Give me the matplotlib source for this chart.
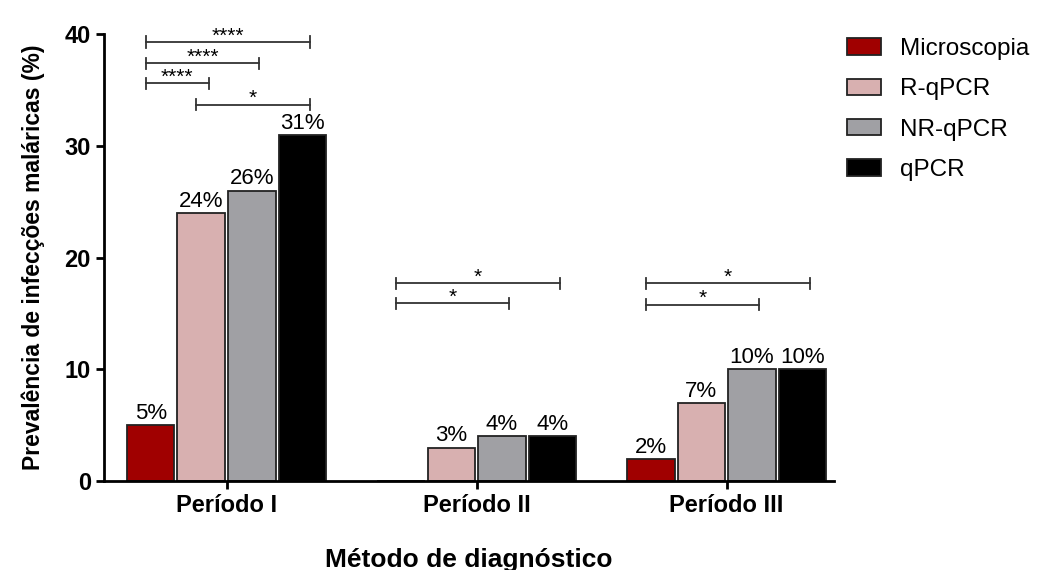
import numpy as np
import matplotlib
matplotlib.use('Agg')
import matplotlib.pyplot as plt

plt.rcParams['font.family'] = ['Liberation Sans', 'DejaVu Sans']

periods = ['Período I', 'Período II', 'Período III']
methods = ['Microscopia', 'R-qPCR', 'NR-qPCR', 'qPCR']
colors = ['#a00000', '#d8b0b0', '#a0a0a4', '#000000']

microscopia = [5, 0, 2]
r_qpcr = [24, 3, 7]
nr_qpcr = [26, 4, 10]
qpcr = [31, 4, 10]
values = [microscopia, r_qpcr, nr_qpcr, qpcr]

# significance brackets: (period, from method, to method, height, label)
brackets = [
    (0, 0, 3, 39.3, '****'),
    (0, 0, 2, 37.4, '****'),
    (0, 0, 1, 35.6, '****'),
    (0, 1, 3, 33.7, '*'),
    (1, 0, 3, 17.7, '*'),
    (1, 0, 2, 15.9, '*'),
    (2, 0, 3, 17.7, '*'),
    (2, 0, 2, 15.8, '*'),
]

fig = plt.figure(figsize=(10.43, 5.70), dpi=100)
ax = fig.add_axes([0.0997, 0.156, 0.70, 0.784])

x = np.arange(len(periods))
pitch = 0.202
width = 0.19

for i, m in enumerate(methods):
    pos = x + (i - 1.5) * pitch
    vals = values[i]
    ax.bar(pos, vals, width, color=colors[i], edgecolor='#222222',
           linewidth=1.3, label=m)
    for p, v in zip(pos, vals):
        if v > 0:
            ax.text(p, v + 0.1, '%d%%' % v, ha='center', va='bottom', fontsize=16)

for g, a, b, h, lab in brackets:
    x0 = g + (a - 1.5) * pitch - 0.02
    x1 = g + (b - 1.5) * pitch + 0.03
    ax.plot([x0, x1], [h, h], color='#333333', lw=1.3, clip_on=False)
    for xx in (x0, x1):
        ax.plot([xx, xx], [h - 0.5, h + 0.5], color='#333333', lw=1.3, clip_on=False)
    ax.text((x0 + x1) / 2, h - 0.3, lab, ha='center', va='bottom', fontsize=15)

ax.set_xlim(-0.49, 2.43)
ax.set_ylim(0, 40)
ax.set_yticks([0, 10, 20, 30, 40])
ax.set_xticks(x)
ax.set_xticklabels(periods, fontsize=17, fontweight='bold')
for t in ax.get_yticklabels():
    t.set_fontsize(17)
    t.set_fontweight('bold')

for s in ['top', 'right']:
    ax.spines[s].set_visible(False)
for s in ['left', 'bottom']:
    ax.spines[s].set_linewidth(2)
ax.tick_params(width=2, length=6)

ax.set_ylabel('Prevalência de infecções maláricas (%)', fontsize=16.5,
              fontweight='bold', labelpad=14)
ax.set_xlabel('Método de diagnóstico', fontsize=19, fontweight='bold', labelpad=22)

ax.legend(loc='upper left', bbox_to_anchor=(0.8027, 0.95),
          bbox_transform=fig.transFigure, borderaxespad=0, frameon=False,
          fontsize=17.5, handlelength=1.4, handleheight=0.66, labelspacing=0.75,
          handletextpad=0.78)

fig.savefig('out.png', dpi=100)
